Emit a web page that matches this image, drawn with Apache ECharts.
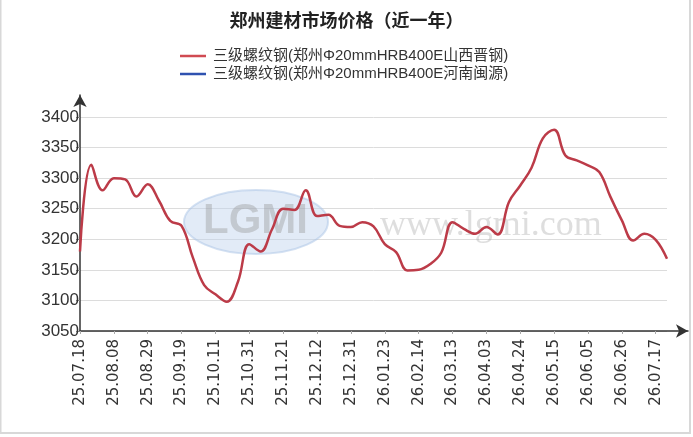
<!DOCTYPE html>
<html>
<head>
<meta charset="utf-8">
<script src="https://cdn.jsdelivr.net/npm/echarts@6/dist/echarts.min.js"></script>
<style>
  html, body { margin: 0; padding: 0; background: #fff; }
  #box1 { width: 693px; height: 437px; }
</style>
</head>
<body>
<div id="box1"></div>
<script>
var dates = [
  '25.07.18', '25.07.25', '25.08.01', '25.08.08', '25.08.15', '25.08.22', '25.08.29',
  '25.09.05', '25.09.12', '25.09.19', '25.09.26', '25.09.30', '25.10.11', '25.10.17',
  '25.10.24', '25.10.31', '25.11.07', '25.11.14', '25.11.21', '25.11.28', '25.12.05',
  '25.12.12', '25.12.19', '25.12.26', '25.12.31', '26.01.09', '26.01.16', '26.01.23',
  '26.01.30', '26.02.06', '26.02.14', '26.02.27', '26.03.06', '26.03.13', '26.03.20',
  '26.03.27', '26.04.03', '26.04.10', '26.04.17', '26.04.24', '26.04.30', '26.05.08',
  '26.05.15', '26.05.22', '26.05.29', '26.06.05', '26.06.12', '26.06.19', '26.06.26',
  '26.07.03', '26.07.10', '26.07.17', '26.07.24'
];
// 山西晋钢
var jingang = [
  3180, 3322, 3280, 3300, 3298, 3270, 3290, 3263, 3230, 3222, 3170, 3125, 3110, 3098,
  3131, 3192, 3180, 3216, 3250, 3248, 3280, 3238, 3240, 3222, 3220, 3228, 3221, 3192,
  3179, 3149, 3150, 3159, 3178, 3228, 3217, 3209, 3220, 3208, 3261, 3288, 3317, 3365,
  3379, 3337, 3329, 3321, 3310, 3269, 3231, 3198, 3209, 3199, 3168
];
// 河南闽源 (no line drawn in the picture)
var minyuan = [];
var seriesNames = [
  '三级螺纹钢(郑州Φ20mmHRB400E山西晋钢)',
  '三级螺纹钢(郑州Φ20mmHRB400E河南闽源)'
];
var yMin = 3050, yMax = 3400, yStep = 50;

var dom = document.getElementById('box1');
var myChart = echarts.init(dom);
var font = "'Liberation Sans', Arial, 'Noto Sans CJK SC', sans-serif";
var axisColor = '#333';

var option = {
  backgroundColor: '#fff',
  animation: false,
  title: {
    text: '郑州建材市场价格（近一年）',
    left: 'center',
    top: 6,
    textStyle: {
      color: '#222',
      fontSize: 18,
      fontWeight: 'bold',
      fontFamily: "'Noto Sans CJK SC', sans-serif"
    }
  },
  legend: {
    orient: 'vertical',
    left: 180,
    top: 48,
    padding: 0,
    icon: 'rect',
    itemWidth: 26,
    itemHeight: 2.5,
    itemGap: 2,
    data: seriesNames,
    textStyle: { color: '#333', fontSize: 15, lineHeight: 16, fontFamily: font, padding: [0, 0, 0, 2] }
  },
  graphic: [
    {
      type: 'rect',
      silent: true,
      shape: { x: 0.5, y: -2, width: 689.5, height: 435 },
      style: { fill: 'none', stroke: '#d8d8d8', lineWidth: 2 }
    },
    // watermark
    {
      type: 'ellipse',
      silent: true,
      z: 1,
      shape: { cx: 256, cy: 222, rx: 72, ry: 32 },
      style: { fill: 'rgba(190,210,238,0.45)', stroke: 'rgba(170,195,230,0.5)', lineWidth: 2 }
    },
    {
      type: 'text',
      silent: true,
      z: 1,
      left: 203,
      top: 200,
      style: {
        text: 'LGMI',
        fill: 'rgba(150,150,150,0.4)',
        font: 'bold 42px "Liberation Sans", Arial'
      }
    },
    {
      type: 'text',
      silent: true,
      z: 1,
      left: 380,
      top: 208,
      style: {
        text: 'www.lgmi.com',
        fill: 'rgba(160,160,160,0.35)',
        font: '36px "Liberation Serif", "DejaVu Serif", serif'
      }
    }
  ],
  grid: [
    { left: 80, right: 26, top: 117, bottom: 106 },
    { left: 80, right: 5, top: 95, bottom: 106 }
  ],
  xAxis: [
    {
      type: 'category',
      gridIndex: 0,
      data: dates,
      boundaryGap: false,
      axisLine: { show: false },
      axisTick: {
        show: true,
        interval: 2,
        length: 3,
        lineStyle: { color: '#aaa' }
      },
      axisLabel: {
        interval: 2,
        rotate: 90,
        margin: 8,
        color: '#333',
        fontSize: 15,
        fontFamily: "'DejaVu Sans', sans-serif"
      },
      splitLine: { show: false }
    },
    {
      type: 'value',
      gridIndex: 1,
      min: 0,
      max: 1,
      axisLine: {
        show: true,
        symbol: ['none', 'arrow'],
        symbolSize: [10, 12],
        lineStyle: { color: axisColor, width: 1.5 }
      },
      axisTick: { show: false },
      axisLabel: { show: false },
      splitLine: { show: false }
    }
  ],
  yAxis: [
    {
      type: 'value',
      gridIndex: 0,
      min: yMin,
      max: yMax,
      interval: yStep,
      axisLine: { show: false },
      axisTick: { show: true, length: 4, lineStyle: { color: '#888' } },
      axisLabel: {
        margin: 1,
        color: '#333',
        fontSize: 17,
        fontFamily: "'Liberation Sans Narrow', 'Liberation Sans', Arial, sans-serif",
        formatter: function (v) { return String(v); }
      },
      splitLine: { show: true, lineStyle: { color: '#dcdcdc', width: 1 } }
    },
    {
      type: 'value',
      gridIndex: 1,
      min: 0,
      max: 1,
      axisLine: {
        show: true,
        symbol: ['none', 'arrow'],
        symbolSize: [10, 12],
        lineStyle: { color: axisColor, width: 1.5 }
      },
      axisTick: { show: false },
      axisLabel: { show: false },
      splitLine: { show: false }
    }
  ],
  series: [
    {
      name: seriesNames[0],
      type: 'line',
      xAxisIndex: 0,
      yAxisIndex: 0,
      data: jingang,
      smooth: 0.4,
      symbol: 'none',
      z: 3,
      itemStyle: { color: '#d04a52' },
      lineStyle: { color: '#bc3b48', width: 2.5 }
    },
    {
      name: seriesNames[1],
      type: 'line',
      xAxisIndex: 0,
      yAxisIndex: 0,
      data: minyuan,
      smooth: 0.4,
      symbol: 'none',
      itemStyle: { color: '#2f52b0' },
      lineStyle: { color: '#2f52b0', width: 2.5 }
    }
  ]
};

if (option && typeof option === 'object') {
  myChart.setOption(option);
}
</script>
</body>
</html>
